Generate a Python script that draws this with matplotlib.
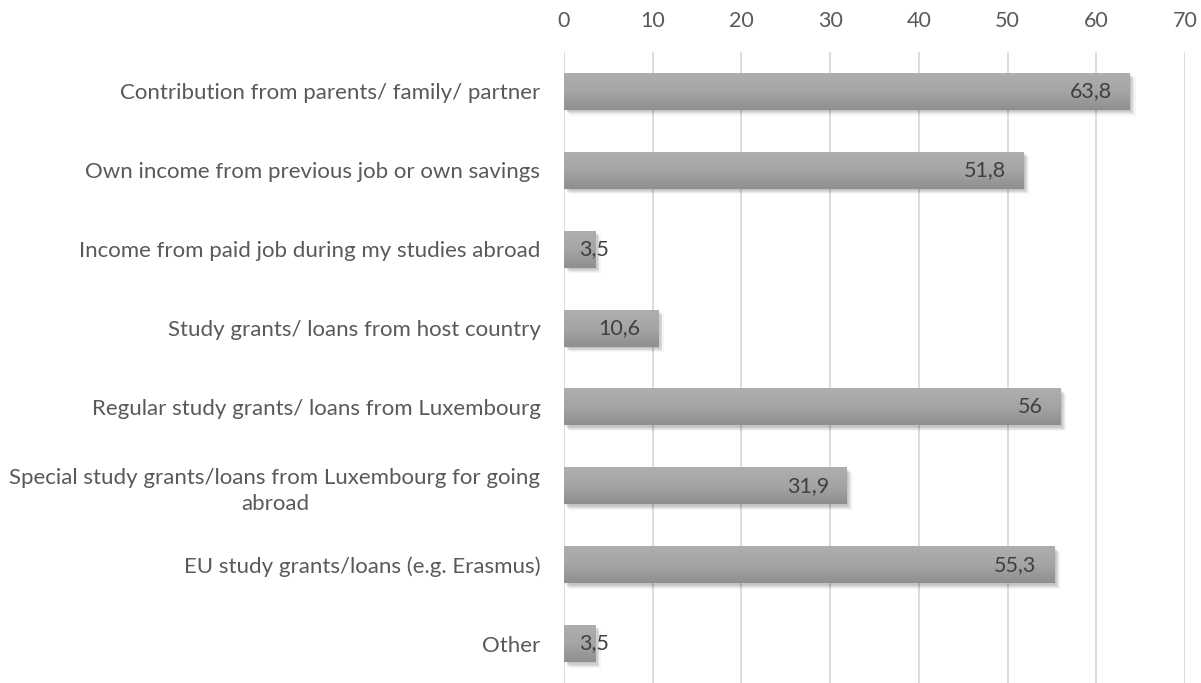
import matplotlib
matplotlib.use("Agg")
import matplotlib.pyplot as plt
import matplotlib.patheffects as pe
import numpy as np

categories = [
    "Contribution from parents/ family/ partner",
    "Own income from previous job or own savings",
    "Income from paid job during my studies abroad",
    "Study grants/ loans from host country",
    "Regular study grants/ loans from Luxembourg",
    "Special study grants/loans from Luxembourg for going\nabroad",
    "EU study grants/loans (e.g. Erasmus)",
    "Other",
]
values = [63.8, 51.8, 3.5, 10.6, 56, 31.9, 55.3, 3.5]
value_labels = ["63,8", "51,8", "3,5", "10,6", "56", "31,9", "55,3", "3,5"]
xticks = [0, 10, 20, 30, 40, 50, 60, 70]

plt.rcParams["font.family"] = ["Lato", "DejaVu Sans"]
FS = 15.5

fig = plt.figure(figsize=(12.01, 6.83), dpi=100)
ax = fig.add_axes([564 / 1201, 0.0, (1185 - 564) / 1201, 1 - 52 / 683])

y = np.arange(len(categories))
bar_h = 0.47

# vertical gridlines
for t in xticks:
    ax.axvline(t, color="#d9d9d9", lw=1.3, zorder=0)

bars = ax.barh(y, values, height=bar_h, color="#a3a3a3", edgecolor="none", zorder=3)

shadow_effects = [
    pe.SimplePatchShadow(offset=(o, -o), shadow_rgbFace="black", alpha=al)
    for o, al in [(4.0, 0.035), (3.2, 0.05), (2.5, 0.06), (1.8, 0.06), (1.0, 0.05)]
]

# light at the top of each bar, darker towards the bottom
grad = np.linspace(0, 1, 64).reshape(-1, 1)
cmap = matplotlib.colors.LinearSegmentedColormap.from_list("g", ["#afafaf", "#a5a5a5", "#8f8f8f"])
for rect in bars:
    rect.set_path_effects(shadow_effects + [pe.Normal()])
    x0, y0 = rect.get_x(), rect.get_y()
    w, h = rect.get_width(), rect.get_height()
    im = ax.imshow(grad, extent=[x0, x0 + w, y0 + h, y0], origin="upper",
                   aspect="auto", cmap=cmap, zorder=4, interpolation="bicubic")
    im.set_clip_path(rect)

ax.set_xlim(0, 70)
ax.set_ylim(len(categories) - 0.5, -0.5)

# value labels inside bar end
for yi, v, lab in zip(y, values, value_labels):
    if v > 8:
        ax.annotate(lab, (v, yi), xytext=(-13, 0), textcoords="offset points",
                    ha="right", va="center", fontsize=FS, color="#404040", zorder=6)
    else:
        ax.annotate(lab, (0, yi), xytext=(11, 0), textcoords="offset points",
                    ha="left", va="center", fontsize=FS, color="#404040", zorder=6)

ax.xaxis.tick_top()
ax.set_xticks(xticks)
ax.set_xticklabels([str(t) for t in xticks])
ax.set_yticks(y)
ax.set_yticklabels(categories, multialignment="center", linespacing=1.4)
ax.tick_params(axis="x", length=0, pad=15, labelsize=FS, labelcolor="#595959")
ax.tick_params(axis="y", length=0, pad=17, labelsize=16, labelcolor="#595959")
for s in ax.spines.values():
    s.set_visible(False)

fig.savefig("out.png", dpi=100)
